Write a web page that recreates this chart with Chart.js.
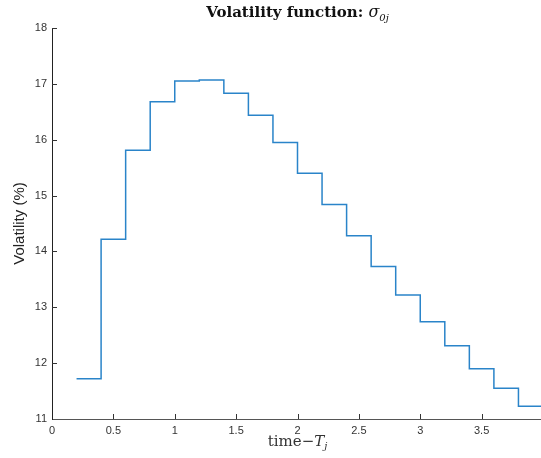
<!DOCTYPE html>
<html>
<head>
<meta charset="utf-8">
<script src="https://cdn.jsdelivr.net/npm/chart.js@4.4.0/dist/chart.umd.min.js"></script>
<style>
  html, body { margin: 0; padding: 0; background: #fff; overflow: hidden; }
  #wrap { position: absolute; left: 0; top: 0; width: 548px; height: 458px; }
</style>
</head>
<body>
<div id="wrap"><canvas id="volChart"></canvas></div>
<script>
// step boundaries (time - T_j) and the volatility held on each interval
const stepTimes = [0.2, 0.4, 0.6, 0.8, 1.0, 1.2, 1.4, 1.6, 1.8, 2.0, 2.2, 2.4, 2.6, 2.8, 3.0, 3.2, 3.4, 3.6, 3.8, 4.0];
const vols = [11.72, 14.22, 15.81, 16.68, 17.05, 17.07, 16.83, 16.44, 15.95, 15.40, 14.84, 14.28, 13.73, 13.22, 12.74, 12.31, 11.90, 11.55, 11.23];
const xTicks = [0, 0.5, 1, 1.5, 2, 2.5, 3, 3.5, 4];
const yTicks = [11, 12, 13, 14, 15, 16, 17, 18];

// build the points: each boundary gets the value of the interval that starts there
var points = [];
for (let i = 0; i < stepTimes.length; i++) {
    let v = i < vols.length ? vols[i] : vols[vols.length - 1];
    points.push({ x: stepTimes[i], y: v });
}

//draw inward tick marks, title and x label
const decorPlugin = {
    id: 'decor',
    afterDraw(chart) {
        const ctx = chart.ctx;
        const area = chart.chartArea;
        const xs = chart.scales.x;
        const ys = chart.scales.y;
        ctx.save();
        ctx.strokeStyle = '#333';
        ctx.lineWidth = 1;
        ctx.beginPath();
        xTicks.forEach(function (t) {
            if (t === 0) return;
            let px = Math.round(xs.getPixelForValue(t)) + 0.5;
            ctx.moveTo(px, area.bottom);
            ctx.lineTo(px, area.bottom - 5);
        });
        yTicks.forEach(function (t) {
            if (t === 11) return;
            let py = Math.round(ys.getPixelForValue(t)) + 0.5;
            ctx.moveTo(area.left, py);
            ctx.lineTo(area.left + 5, py);
        });
        ctx.stroke();

        // title: Volatility function: sigma_0j
        const cx = (area.left + area.right) / 2;
        const fBold = 'bold 15px "DejaVu Serif"';
        const fIt = 'italic 16px "DejaVu Serif"';
        const fSub = 'italic 10px "DejaVu Serif"';
        const t1 = 'Volatility function: ';
        ctx.font = fBold; let w1 = ctx.measureText(t1).width;
        ctx.font = fIt; let w2 = ctx.measureText('σ').width;
        ctx.font = fSub; let w3 = ctx.measureText('0j').width;
        let x0 = cx - (w1 + w2 + w3) / 2;
        ctx.fillStyle = '#111';
        ctx.textBaseline = 'alphabetic';
        ctx.textAlign = 'left';
        ctx.font = fBold; ctx.fillText(t1, x0, 17);
        ctx.font = fIt; ctx.fillText('σ', x0 + w1, 17);
        ctx.font = fSub; ctx.fillText('0j', x0 + w1 + w2, 21);

        // x label: time - T_j
        const fR = '15px "DejaVu Serif"';
        const fI = 'italic 15px "DejaVu Serif"';
        const fS = 'italic 10px "DejaVu Serif"';
        ctx.font = fR; let a = ctx.measureText('time\u2212').width;
        ctx.font = fI; let b = ctx.measureText('T').width;
        ctx.font = fS; let c = ctx.measureText('j').width;
        let lx = cx - (a + b + c) / 2;
        ctx.fillStyle = '#333';
        ctx.font = fR; ctx.fillText('time\u2212', lx, 446);
        ctx.font = fI; ctx.fillText('T', lx + a, 446);
        ctx.font = fS; ctx.fillText('j', lx + a + b, 449);
        ctx.restore();
    }
};

const ctx = document.getElementById('volChart');
const chart = new Chart(ctx, {
    type: 'line',
    data: {
        datasets: [{
            data: points,
            borderColor: '#2a84c9',
            borderWidth: 1.5,
            pointRadius: 0,
            stepped: true,
            fill: false
        }]
    },
    options: {
        responsive: true,
        maintainAspectRatio: false,
        animation: false,
        layout: { padding: { top: 28, right: 4, left: 0, bottom: 0 } },
        plugins: {
            legend: { display: false },
            tooltip: { enabled: false },
            title: { display: false }
        },
        scales: {
            x: {
                type: 'linear',
                min: 0,
                max: 4,
                afterFit: function (s) { s.height = 39; },
                afterBuildTicks: function (s) { s.ticks = xTicks.map(v => ({ value: v })); },
                grid: { display: false, drawTicks: false },
                border: { display: true, color: '#555', width: 1 },
                ticks: {
                    padding: 5,
                    color: '#333',
                    font: { family: 'Liberation Sans', size: 11 },
                    maxRotation: 0,
                    callback: function (v) { return v === 4 ? '' : String(v); }
                }
            },
            y: {
                type: 'linear',
                min: 11,
                max: 18,
                afterFit: function (s) { s.width = 52; },
                afterBuildTicks: function (s) { s.ticks = yTicks.map(v => ({ value: v })); },
                grid: { display: false, drawTicks: false },
                border: { display: true, color: '#222', width: 1 },
                ticks: {
                    padding: 5,
                    color: '#333',
                    font: { family: 'Liberation Sans', size: 11 }
                },
                title: {
                    display: true,
                    text: 'Volatility (%)',
                    color: '#222',
                    font: { family: 'Liberation Sans', size: 15 },
                    padding: { top: 11, bottom: 0 }
                }
            }
        }
    },
    plugins: [decorPlugin]
});
</script>
</body>
</html>
